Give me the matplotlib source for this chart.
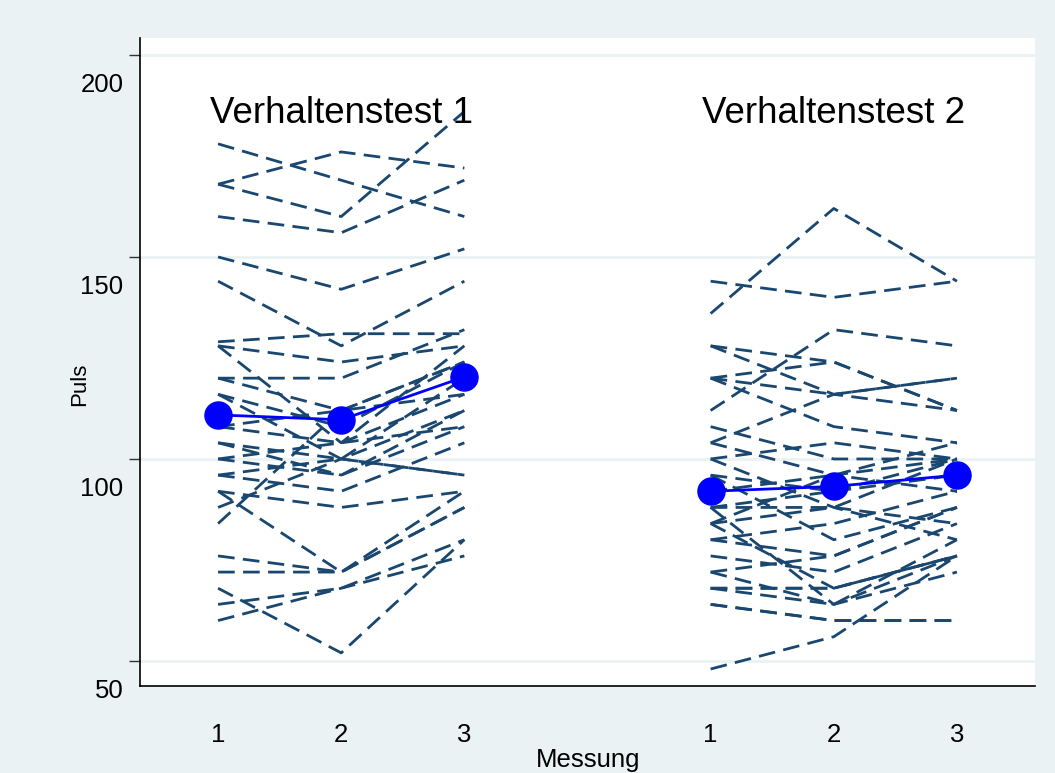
import matplotlib
matplotlib.use('Agg')
import matplotlib.pyplot as plt
from matplotlib.transforms import ScaledTranslation

plt.rcParams['font.family'] = ['Liberation Sans', 'DejaVu Sans']

# ---------------- data ----------------
group_labels = ['Verhaltenstest 1', 'Verhaltenstest 2']
x_group1 = [1, 2, 3]
x_group2 = [5, 6, 7]
x_tick_labels = ['1', '2', '3', '1', '2', '3']
y_ticks = [50, 100, 150, 200]

# Verhaltenstest 1: pulse at Messung 1, 2, 3 (one entry per subject)
vt1_m1 = [178, 168, 168, 160, 150, 144, 129, 128, 128, 120, 120, 116, 116, 108, 108,
          104, 104, 100, 100, 96, 96, 92, 92, 88, 84, 76, 72, 68, 64, 60]
vt1_m2 = [169, 176, 160, 156, 142, 128, 131, 124, 104, 120, 112, 108, 100, 112, 104,
          100, 96, 104, 96, 100, 92, 88, 72, 100, 112, 72, 72, 52, 68, 68]
vt1_m3 = [160, 172, 186, 169, 152, 144, 131, 128, 128, 132, 124, 124, 112, 124, 108,
          120, 112, 116, 108, 96, 104, 92, 88, 96, 116, 88, 92, 80, 80, 76]

# Verhaltenstest 2
vt2_m1 = [136, 144, 112, 120, 128, 128, 120, 104, 120, 108, 104, 100, 96, 92, 88,
          88, 84, 84, 80, 80, 76, 72, 68, 68, 68, 64, 64, 48, 88, 96, 84, 100, 72]
vt2_m2 = [162, 140, 132, 124, 124, 116, 116, 116, 108, 100, 96, 104, 92, 96, 92,
          88, 96, 88, 84, 76, 72, 76, 68, 68, 64, 60, 60, 56, 64, 80, 68, 88, 64]
vt2_m3 = [144, 144, 128, 112, 112, 112, 120, 120, 104, 100, 100, 100, 100, 104, 96,
          100, 92, 84, 92, 88, 84, 88, 76, 76, 80, 60, 60, 76, 76, 88, 76, 80, 72]

# group means
vt1_mean = [110.9, 109.7, 120.3]
vt2_mean = [92.0, 93.2, 96.0]

# ---------------- styling ----------------
bg = '#EAF2F3'
navy = '#1A476F'

fig = plt.figure(figsize=(10.55, 7.73), dpi=100, facecolor=bg)
ax = fig.add_axes([140 / 1055, 87 / 773, 895 / 1055, 648 / 773])
ax.set_facecolor('white')

dash = (0, (6, 3))
for m1, m2, m3 in zip(vt1_m1, vt1_m2, vt1_m3):
    ax.plot(x_group1, [m1, m2, m3], color=navy, lw=2.0, linestyle=dash, zorder=2)
for m1, m2, m3 in zip(vt2_m1, vt2_m2, vt2_m3):
    ax.plot(x_group2, [m1, m2, m3], color=navy, lw=2.0, linestyle=dash, zorder=2)

for xs, ms in ((x_group1, vt1_mean), (x_group2, vt2_mean)):
    ax.plot(xs, ms, color='#0000FF', lw=2.0, marker='o', markersize=19.5,
            markerfacecolor='#0000FF', markeredgecolor='#0000FF', zorder=4)

ax.text(2, 185.6, group_labels[0], fontsize=26.5, ha='center', va='center', color='black')
ax.text(6, 185.6, group_labels[1], fontsize=26.5, ha='center', va='center', color='black')

ax.set_xlim(0.366, 7.634)
ax.set_ylim(43.8, 204.2)

ax.set_yticks(y_ticks)
ax.set_yticklabels([str(v) for v in y_ticks])
ax.tick_params(axis='y', length=8, width=1, pad=4, labelsize=18.5, color='#333333')
offset = ScaledTranslation(0, -0.28, fig.dpi_scale_trans)
for lbl in ax.get_yticklabels():
    lbl.set_transform(lbl.get_transform() + offset)

ax.set_xticks(x_group1 + x_group2)
ax.set_xticklabels(x_tick_labels)
ax.tick_params(axis='x', length=0, pad=27, labelsize=18.5)

ax.yaxis.grid(True, color=bg, lw=2)
ax.set_axisbelow(True)

for s in ('top', 'right'):
    ax.spines[s].set_visible(False)
for s in ('left', 'bottom'):
    ax.spines[s].set_color('black')
    ax.spines[s].set_linewidth(1.2)

ax.set_xlabel('Messung', fontsize=18.5)
ax.xaxis.set_label_coords((588 - 140) / 895, (686 - 760) / 648)
ax.xaxis.label.set_va('center')
ax.set_ylabel('Puls', fontsize=16)
ax.yaxis.set_label_coords((80 - 140) / 895, (686 - 384) / 648)
ax.yaxis.label.set_va('center')

fig.savefig('out.png', dpi=100, facecolor=fig.get_facecolor())
